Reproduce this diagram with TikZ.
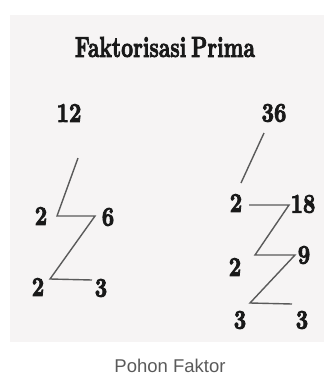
\documentclass[tikz,border=0pt]{standalone}
\usepackage{fontspec}
\usepackage{graphicx}
\newfontfamily\heavyfont{lmroman10-bold.otf}[FakeBold=3.5]
\newfontfamily\titlefont{lmroman10-bold.otf}[FakeBold=3]
\newfontfamily\capfont{Liberation Sans}
\definecolor{panelbg}{RGB}{246,244,244}
\definecolor{inkc}{RGB}{25,25,25}
\definecolor{linec}{RGB}{90,90,90}
\definecolor{capc}{RGB}{90,90,90}
\newcommand{\dg}[1]{\scalebox{0.8}[1]{#1}}
\begin{document}
\begin{tikzpicture}[x=1pt,y=-1pt,
  num/.style={inner sep=0pt, text=inkc, font=\heavyfont\fontsize{27}{28}\selectfont},
  treeline/.style={draw=linec, line width=1.4pt, line join=miter}]
\useasboundingbox (0,0) rectangle (324,376);
\fill[panelbg] (10,15) rectangle (324,342);
% title
\node[inner sep=0pt, text=inkc] (title) at (165,47)
  {\resizebox{180pt}{20pt}{\titlefont Faktorisasi\kern-0.15em\ Prima}};
% left tree
\node[num] (n12) at (69,113) {\dg{12}};
\node[num] (a2) at (41,216) {\dg{2}};
\node[num] (a6) at (108,217) {\dg{6}};
\node[num] (b2) at (38,287) {\dg{2}};
\node[num] (b3) at (101,288) {\dg{3}};
\coordinate (l0) at (78,158);
\coordinate (l1) at (57,216);
\coordinate (l2) at (95,216);
\coordinate (l3) at (50,279);
\coordinate (l4) at (92,280);
\draw[treeline] (l0) -- (l1) -- (l2) -- (l3) -- (l4);
% right tree
\node[num] (n36) at (274,113) {\dg{36}};
\node[num] (c2) at (236,203) {\dg{2}};
\node[num] (c18) at (303,204) {\dg{18}};
\node[num] (d2) at (235,267) {\dg{2}};
\node[num] (d9) at (304,255) {\dg{9}};
\node[num] (e3) at (240,320) {\dg{3}};
\node[num] (f3) at (302,320) {\dg{3}};
\coordinate (r0) at (264,133);
\coordinate (r1) at (241,183);
\coordinate (r2) at (249,205);
\coordinate (r3) at (289,205);
\coordinate (r4) at (255,255);
\coordinate (r5) at (295,255);
\coordinate (r6) at (250,303);
\coordinate (r7) at (292,304);
\draw[treeline] (r0) -- (r1);
\draw[treeline] (r2) -- (r3) -- (r4) -- (r5) -- (r6) -- (r7);
% caption
\node[inner sep=0pt, text=capc, font=\capfont\fontsize{18.5}{20}\selectfont] (cap) at (170,366) {Pohon Faktor};
\end{tikzpicture}
\end{document}
